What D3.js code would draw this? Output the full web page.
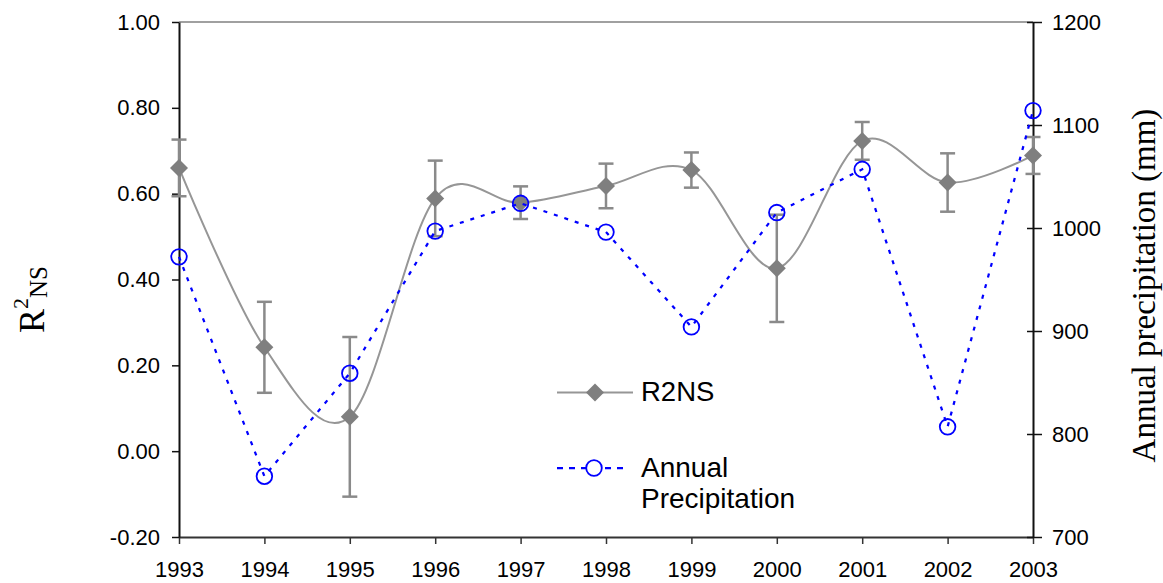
<!DOCTYPE html>
<html>
<head>
<meta charset="utf-8">
<script src="https://cdn.jsdelivr.net/npm/d3@7"></script>
<style>
  html, body { margin: 0; padding: 0; background: #fff; }
  svg { display: block; }
</style>
</head>
<body>
<svg id="chart" width="1163" height="583"></svg>
<script>
// Yearly model efficiency (R2 Nash-Sutcliffe) with spread, and annual precipitation
const years = [1993, 1994, 1995, 1996, 1997, 1998, 1999, 2000, 2001, 2002, 2003];
const r2ns = [0.66, 0.242, 0.08, 0.589, 0.579, 0.618, 0.655, 0.426, 0.723, 0.626, 0.689];
const r2nsErr = [0.066, 0.106, 0.186, 0.088, 0.038, 0.052, 0.041, 0.125, 0.044, 0.068, 0.043];
const precip = [972, 759, 859, 997, 1024, 996, 904, 1015, 1057, 807, 1114];
const leftTicks = [-0.2, 0, 0.2, 0.4, 0.6, 0.8, 1.0];
const rightTicks = [700, 800, 900, 1000, 1100, 1200];

const svg = d3.select("#chart");
const plotL = 179, plotR = 1033, plotT = 22, plotB = 537;

const x = d3.scaleLinear().domain([1993, 2003]).range([plotL, plotR]);
const yL = d3.scaleLinear().domain([-0.2, 1.0]).range([plotB, plotT]);
const yR = d3.scaleLinear().domain([700, 1200]).range([plotB, plotT]);

const sans = "'Liberation Sans', Arial, sans-serif";
const serif = "'Liberation Serif', 'Times New Roman', serif";
const grayLine = "#969696", grayMark = "#7f7f7f", blue = "#0000ff";

// plot area top border
svg.append("line")
  .attr("x1", plotL).attr("x2", plotR).attr("y1", plotT).attr("y2", plotT)
  .attr("stroke", "#a0a0a0").attr("stroke-width", 2);

// axes
function styleAxis(g, color) {
  g.select(".domain").attr("stroke", color).attr("stroke-width", 2);
  g.selectAll(".tick line").attr("stroke", color).attr("stroke-width", 1.5);
  g.selectAll(".tick text").attr("fill", "#000")
    .style("font-family", sans).style("font-size", "22px");
}

const gx = svg.append("g").attr("transform", `translate(0,${plotB})`)
  .call(d3.axisBottom(x).tickValues(years).tickFormat(d3.format("d"))
    .tickSizeInner(7).tickSizeOuter(0).tickPadding(17));
styleAxis(gx, "#333");

const gl = svg.append("g").attr("transform", `translate(${plotL},0)`)
  .call(d3.axisLeft(yL).tickValues(leftTicks).tickFormat(d => d.toFixed(2))
    .tickSizeInner(7).tickSizeOuter(0).tickPadding(12));
styleAxis(gl, "#111");

const gr = svg.append("g").attr("transform", `translate(${plotR},0)`)
  .call(d3.axisRight(yR).tickValues(rightTicks).tickFormat(d3.format("d"))
    .tickSizeInner(9).tickSizeOuter(0).tickPadding(10));
styleAxis(gr, "#111");
// right ticks cross the axis line
gr.selectAll(".tick line").attr("x1", -6).attr("x2", 9);

// axis titles
const lt = svg.append("text")
  .attr("transform", "translate(44,333) rotate(-90)")
  .style("font-family", serif).style("font-size", "36px").attr("fill", "#000");
lt.append("tspan").text("R");
lt.append("tspan").attr("dy", -16).style("font-size", "22px").text("2");
lt.append("tspan").attr("dy", 19).style("font-size", "25px").text("NS");

svg.append("text")
  .attr("transform", `translate(1155,${(plotT + plotB) / 2 + 6}) rotate(-90)`)
  .attr("text-anchor", "middle")
  .style("font-family", serif).style("font-size", "33px").attr("fill", "#000")
  .text("Annual precipitation (mm)");

// R2NS series: error bars, smoothed line, diamond markers
const capHalf = 7.5;
const eb = svg.append("g").attr("stroke", "#8a8a8a").attr("stroke-width", 2.5);
years.forEach((yr, i) => {
  const cx = x(yr), y1 = yL(r2ns[i] + r2nsErr[i]), y2 = yL(r2ns[i] - r2nsErr[i]);
  eb.append("line").attr("x1", cx).attr("x2", cx).attr("y1", y1).attr("y2", y2);
  eb.append("line").attr("x1", cx - capHalf).attr("x2", cx + capHalf).attr("y1", y1).attr("y2", y1);
  eb.append("line").attr("x1", cx - capHalf).attr("x2", cx + capHalf).attr("y1", y2).attr("y2", y2);
});

const r2Line = d3.line().x((d, i) => x(years[i])).y(d => yL(d)).curve(d3.curveCardinal.tension(0));
svg.append("path").datum(r2ns).attr("d", r2Line)
  .attr("fill", "none").attr("stroke", grayLine).attr("stroke-width", 2);

const diamond = d3.symbol(d3.symbolSquare, 162);
svg.append("g").selectAll("path").data(r2ns).join("path")
  .attr("d", diamond)
  .attr("transform", (d, i) => `translate(${x(years[i])},${yL(d)}) rotate(45)`)
  .attr("fill", grayMark);

// Precipitation series: dotted line with open circles
const pLine = d3.line().x((d, i) => x(years[i])).y(d => yR(d));
svg.append("path").datum(precip).attr("d", pLine)
  .attr("fill", "none").attr("stroke", blue).attr("stroke-width", 2.25)
  .attr("stroke-dasharray", "4,7");

svg.append("g").selectAll("circle").data(precip).join("circle")
  .attr("cx", (d, i) => x(years[i])).attr("cy", d => yR(d)).attr("r", 7.8)
  .attr("fill", "none").attr("stroke", blue).attr("stroke-width", 1.8);

// legend
const lg = svg.append("g");
lg.append("line").attr("x1", 557).attr("x2", 633).attr("y1", 392.5).attr("y2", 392.5)
  .attr("stroke", grayLine).attr("stroke-width", 2);
lg.append("path").attr("d", diamond).attr("transform", "translate(595,392.5) rotate(45)").attr("fill", grayMark);
lg.append("text").attr("x", 641).attr("y", 401).text("R2NS")
  .style("font-family", sans).style("font-size", "27.5px");

lg.append("line").attr("x1", 557).attr("x2", 628).attr("y1", 468).attr("y2", 468)
  .attr("stroke", blue).attr("stroke-width", 2.25).attr("stroke-dasharray", "6,6");
lg.append("circle").attr("cx", 594).attr("cy", 468).attr("r", 7.8)
  .attr("fill", "#fff").attr("stroke", blue).attr("stroke-width", 1.8);
const lt2 = lg.append("text").style("font-family", sans).style("font-size", "28px");
lt2.append("tspan").attr("x", 641).attr("y", 477).text("Annual");
lt2.append("tspan").attr("x", 641).attr("y", 508).text("Precipitation");
</script>
</body>
</html>
